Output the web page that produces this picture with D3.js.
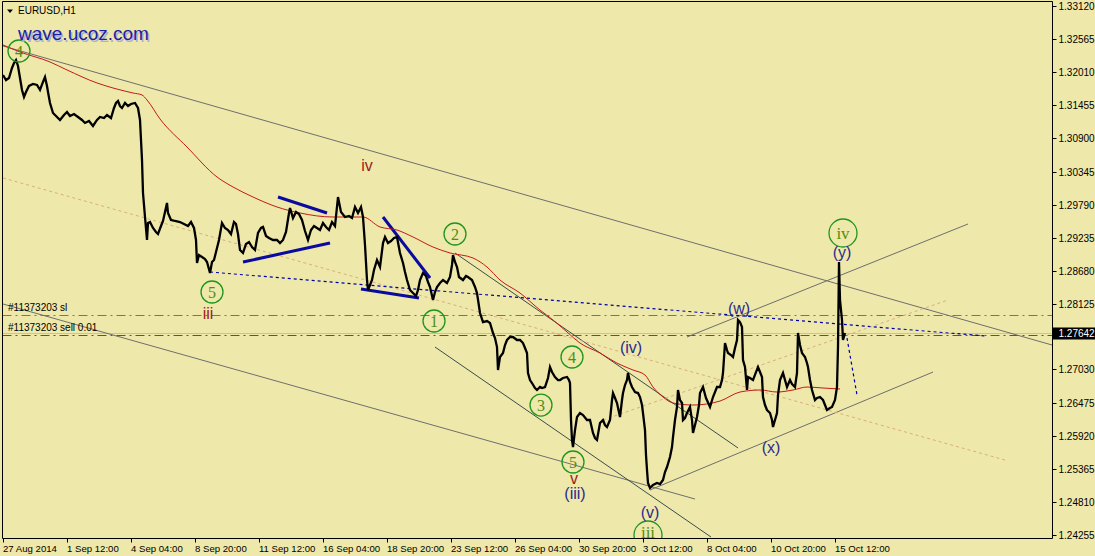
<!DOCTYPE html>
<html><head><meta charset="utf-8">
<script src="https://cdn.jsdelivr.net/npm/d3@7"></script>
<style>html,body{margin:0;padding:0;background:#EEE8AA;}svg{display:block;}</style>
</head><body><svg id="c" width="1095" height="556"></svg>
<script>
// ---------- DATA ----------
const symbolTitle = "EURUSD,H1";
const siteText = "wave.ucoz.com";
const timeTickBars = [0,64,128,192,256,320,384,448,512,576,640,704,768,832];
const timeTickLabels = ["27 Aug 2014","1 Sep 12:00","4 Sep 04:00","8 Sep 20:00","11 Sep 12:00","16 Sep 04:00","18 Sep 20:00","23 Sep 12:00","26 Sep 04:00","30 Sep 20:00","3 Oct 12:00","8 Oct 04:00","10 Oct 20:00","15 Oct 12:00"];
const priceTickValues = [1.33120,1.32565,1.32010,1.31455,1.30900,1.30345,1.29790,1.29235,1.28680,1.28125,1.27030,1.26475,1.25920,1.25365,1.24810,1.24255];
const lastPrice = 1.27642;

const priceBars = [0,3,6,9,11,13,15,17,19,21,23,26,30,34,37,40,42,44,45,47,50,54,57,61,64,67,71,75,79,82,86,90,94,97,101,104,108,111,113,115,117,119,122,125,128,132,135,137,139,140,142,144,145,147,150,153,155,158,160,162,164,165,168,172,177,181,185,188,191,193,194,196,199,202,204,207,209,211,214,216,219,222,225,228,231,233,235,237,240,243,246,249,252,255,258,260,263,266,270,274,277,280,283,286,287,290,293,296,299,302,305,308,311,314,317,320,323,326,329,332,335,338,342,346,349,352,355,358,360,362,364,365,367,369,371,374,377,380,382,385,388,391,394,397,400,402,404,407,410,413,415,417,420,423,425,427,430,432,434,437,440,444,447,449,450,452,454,456,460,463,465,469,472,474,477,480,484,487,490,492,494,495,497,500,502,504,507,510,514,517,520,522,524,525,527,529,532,534,537,539,542,545,547,549,552,555,557,560,564,566,567,568,569,570,572,574,577,580,584,587,590,592,594,597,600,602,604,607,609,610,612,614,617,619,620,622,624,625,627,629,632,635,637,639,640,642,643,644,645,647,650,654,657,660,662,664,667,669,670,672,674,675,677,679,680,682,684,687,689,690,692,694,696,697,700,703,707,710,714,717,719,720,722,724,725,728,730,732,734,735,737,739,740,742,744,745,747,750,753,755,757,759,760,762,764,767,769,770,772,774,775,777,780,782,784,787,789,792,794,795,797,799,802,804,805,807,809,812,814,817,820,822,824,827,829,832,834,835,836,837,839,840,842];
const closePrices = [1.31964,1.3188,1.31914,1.32081,1.32165,1.32215,1.32115,1.31914,1.31713,1.31595,1.31679,1.3178,1.31813,1.31796,1.31713,1.31847,1.3193,1.3178,1.31679,1.31495,1.31327,1.3126,1.3121,1.31294,1.31344,1.31277,1.3131,1.3126,1.3121,1.3116,1.31193,1.31109,1.3121,1.3126,1.31243,1.31294,1.31243,1.31411,1.31495,1.31528,1.31444,1.31411,1.31495,1.31444,1.31478,1.31495,1.31411,1.3121,1.30539,1.29986,1.29584,1.29199,1.29484,1.295,1.294,1.29333,1.29299,1.29433,1.29517,1.29668,1.29819,1.29651,1.29534,1.29517,1.295,1.29467,1.29433,1.295,1.294,1.29199,1.28813,1.28947,1.28914,1.2888,1.2883,1.28646,1.2883,1.28863,1.29064,1.29199,1.29484,1.294,1.29366,1.29299,1.295,1.29467,1.29299,1.29031,1.28981,1.29132,1.29165,1.29081,1.29031,1.29316,1.294,1.29417,1.29266,1.29232,1.29199,1.29199,1.29148,1.29199,1.29333,1.29651,1.29735,1.29567,1.29668,1.29634,1.29534,1.29349,1.29199,1.29366,1.29433,1.294,1.29366,1.29484,1.29417,1.29366,1.295,1.29433,1.29919,1.29668,1.29584,1.29601,1.29567,1.29752,1.29651,1.29752,1.29584,1.29115,1.28528,1.28361,1.28444,1.28528,1.28696,1.28863,1.28746,1.29148,1.29249,1.29148,1.29182,1.29232,1.29249,1.28981,1.28813,1.28662,1.28528,1.28361,1.2831,1.2826,1.28361,1.28528,1.28646,1.28595,1.28495,1.28411,1.28193,1.28327,1.28411,1.28478,1.28528,1.28478,1.28579,1.2878,1.28947,1.2883,1.28746,1.28579,1.28528,1.28595,1.28579,1.28528,1.28411,1.2831,1.27975,1.27824,1.27841,1.27808,1.2764,1.27556,1.27405,1.2702,1.27238,1.27305,1.27439,1.27523,1.27573,1.27573,1.27523,1.27523,1.27472,1.27389,1.27305,1.2697,1.26852,1.26802,1.26718,1.26685,1.26735,1.26718,1.26735,1.26886,1.2707,1.26986,1.26903,1.26852,1.26852,1.26886,1.26903,1.26852,1.26802,1.26182,1.25847,1.25729,1.26014,1.26232,1.26299,1.26266,1.26182,1.26182,1.25964,1.2588,1.25847,1.26132,1.26182,1.26098,1.26065,1.26182,1.26517,1.26634,1.26551,1.26467,1.26232,1.26517,1.26634,1.26768,1.26852,1.2697,1.26819,1.26735,1.26651,1.26634,1.26567,1.26433,1.26299,1.26014,1.25595,1.25344,1.25126,1.25042,1.25092,1.25126,1.25109,1.25176,1.2531,1.25394,1.25562,1.25729,1.25897,1.26182,1.264,1.26685,1.26517,1.26467,1.26182,1.26216,1.26299,1.264,1.26182,1.25964,1.26098,1.26232,1.26433,1.26634,1.26735,1.26551,1.264,1.26567,1.26735,1.26735,1.26852,1.2697,1.27472,1.27355,1.27305,1.27271,1.27238,1.27389,1.27523,1.27858,1.27824,1.27741,1.27185,1.2707,1.26685,1.26903,1.26886,1.26852,1.26986,1.2707,1.26986,1.26903,1.26567,1.26433,1.26349,1.26299,1.26182,1.26065,1.26182,1.26299,1.26601,1.26852,1.2697,1.26852,1.26735,1.26852,1.26785,1.26735,1.2697,1.2764,1.27439,1.27305,1.27238,1.27135,1.2707,1.26852,1.26685,1.26517,1.26551,1.26567,1.26517,1.26433,1.26349,1.26383,1.264,1.26517,1.26735,1.27405,1.2883,1.28193,1.27858,1.27523,1.2764];

const maBars = [0,17,47,64,94,110,130,139,144,157,184,214,230,250,274,297,330,360,377,394,410,430,447,470,484,497,517,537,550,564,577,597,614,630,642,650,660,670,690,717,737,757,774,790,804,820,837];
const maPrices = [1.32467,1.3235,1.32182,1.32048,1.3183,1.31746,1.31662,1.31629,1.31545,1.31227,1.30757,1.30255,1.30087,1.29919,1.29752,1.29651,1.29584,1.29584,1.29417,1.29366,1.29249,1.29081,1.28981,1.28897,1.28746,1.28528,1.2831,1.28025,1.27858,1.27657,1.27472,1.27305,1.27135,1.2702,1.26936,1.26735,1.26567,1.26467,1.26433,1.265,1.26651,1.26685,1.26651,1.26685,1.26735,1.26718,1.26702];

// trend lines (bar/price endpoints) and their kind
const tlBarA   = [0,      0,      452,    432,    647,    684,    0,      207,    844,    275,    240,    380,    358,    600];
const tlPriceA = [1.3245, 1.28126,1.28981,1.27405,1.25009,1.27573,1.30238,1.28662,1.27556,1.29919,1.2883, 1.29584,1.28377,1.26182];
const tlBarB   = [1049,   692,    735,    708,    930,    965,    1002,   982,    854,    324,    327,    427,    416,    945];
const tlPriceB = [1.27439,1.24858,1.25713,1.24221,1.26986,1.29467,1.25511,1.2759, 1.26601,1.29651,1.29148,1.28562,1.28226,1.28193];
const tlKind   = ["gray","gray","slate","slate","gray","gray","tan","bluedash","bluedash","navy","navy","navy","navy","tan"];

const hLinePrices = [1.27942, 1.27612, 1.27642];
const hLineKinds  = ["sl","sell","bid"];
const hLineTexts  = ["#11373203 sl","#11373203 sell 0.01",""];

const waveTexts  = ["4","5","1","2","3","4","5","iii","iv","iv","iii","v","(iv)","(iii)","(v)","(w)","(x)","(y)"];
const waveBars   = [16,209,431,452,538,569,570,645,840,364,205,571,628,572,647,736,768,839];
const wavePrices = [1.32366,1.28327,1.27841,1.29299,1.26433,1.27238,1.25478,1.24255,1.29316,1.30456,1.27975,1.2521,1.27405,1.24958,1.2464,1.28059,1.25729,1.28998];
const waveKinds  = ["circ","circ","circ","circ","circ","circ","circ","circ","circ","red","red","red","minor","minor","minor","minor","minor","minor"];

// ---------- STYLES ----------
const BG = "#EEE8AA";
const tlStyle = {
  gray:{stroke:"#6e6e6e",w:1,dash:null},
  slate:{stroke:"#3a4d4d",w:1,dash:null},
  tan:{stroke:"#D9AE7E",w:1,dash:"3,3"},
  bluedash:{stroke:"#0000A8",w:1.2,dash:"3,3"},
  navy:{stroke:"#0A0AA0",w:3,dash:null}
};
const hStyle = {
  sl:{stroke:"#F04A10",w:1,dash:"9,4,2,4"},
  sell:{stroke:"#0A8A0A",w:1,dash:"9,4,2,4"},
  bid:{stroke:"#C0C0C0",w:1,dash:null}
};

const svg = d3.select("#c");
const W = 1095, H = 556;
const plot = {l:2.5, t:1.5, r:1052.5, b:538.5};

svg.append("rect").attr("width",W).attr("height",H).attr("fill",BG);

const x = d3.scaleLinear().domain([0,1049]).range([3,1052]);
const y = d3.scaleLinear().domain([1.24255,1.33120]).range([535,6]);

svg.append("defs").append("clipPath").attr("id","pc")
  .append("rect").attr("x",plot.l).attr("y",plot.t).attr("width",plot.r-plot.l).attr("height",plot.b-plot.t);

const g = svg.append("g").attr("clip-path","url(#pc)");

// horizontal lines
hLinePrices.forEach((p,i)=>{
  const s = hStyle[hLineKinds[i]];
  g.append("line").attr("x1",plot.l).attr("x2",plot.r)
    .attr("y1",Math.round(y(p))+0.5).attr("y2",Math.round(y(p))+0.5)
    .attr("stroke",s.stroke).attr("stroke-width",s.w)
    .attr("stroke-dasharray",s.dash);
});

// trend lines
tlKind.forEach((k,i)=>{
  const s = tlStyle[k];
  g.append("line")
    .attr("x1",x(tlBarA[i])).attr("y1",y(tlPriceA[i]))
    .attr("x2",x(tlBarB[i])).attr("y2",y(tlPriceB[i]))
    .attr("stroke",s.stroke).attr("stroke-width",s.w)
    .attr("stroke-dasharray",s.dash);
});

// moving average
g.append("path")
  .attr("d", d3.line().x((d,i)=>x(maBars[i])).y(d=>y(d)).curve(d3.curveMonotoneX)(maPrices))
  .attr("fill","none").attr("stroke","#C41A1A").attr("stroke-width",1);

// price
g.append("path")
  .attr("d", d3.line().x((d,i)=>x(priceBars[i])).y(d=>y(d))(closePrices))
  .attr("fill","none").attr("stroke","#000").attr("stroke-width",2.3).attr("stroke-linejoin","miter");

// order texts
hLineTexts.forEach((t,i)=>{
  if(!t) return;
  g.append("text").attr("x",8).attr("y",y(hLinePrices[i])-3.5)
    .attr("font-family","Liberation Sans, Arial, sans-serif").attr("font-size",10)
    .attr("fill","#000").text(t);
});

// wave labels
waveTexts.forEach((t,i)=>{
  const cx = x(waveBars[i]), cy = y(wavePrices[i]);
  const k = waveKinds[i];
  if(k==="circ"){
    const r = t.length>1 ? 14 : 11;
    const fs = t.length>1 ? 17 : 16;
    g.append("circle").attr("cx",cx).attr("cy",cy).attr("r",r)
      .attr("fill","none").attr("stroke","#1E961E").attr("stroke-width",1.3);
    g.append("text").attr("x",cx).attr("y",Math.min(cy + 0.35*fs, plot.b - 1))
      .attr("text-anchor","middle").attr("font-family","Liberation Serif, Times New Roman, serif")
      .attr("font-size",fs).attr("fill","#4E8E12").text(t);
  } else if(k==="red"){
    g.append("text").attr("x",cx).attr("y",cy).attr("dy","0.35em")
      .attr("text-anchor","middle").attr("font-family","Liberation Sans, Arial, sans-serif")
      .attr("font-size",16).attr("fill","#9A1C1C").text(t);
  } else {
    g.append("text").attr("x",cx).attr("y",cy).attr("dy","0.35em")
      .attr("text-anchor","middle").attr("font-family","Liberation Sans, Arial, sans-serif")
      .attr("font-size",16).attr("fill","#2B2B8E").text(t);
  }
});

// frame
svg.append("path")
  .attr("d",`M${plot.l},${plot.b}V${plot.t}H${plot.r}V${plot.b}H${plot.l}`)
  .attr("fill","none").attr("stroke","#000").attr("stroke-width",1);

// price axis
priceTickValues.forEach(v=>{
  const yy = Math.round(y(v))+0.5;
  svg.append("line").attr("x1",plot.r).attr("x2",plot.r+4).attr("y1",yy).attr("y2",yy).attr("stroke","#000");
  svg.append("text").attr("x",plot.r+6).attr("y",yy+3.5)
    .attr("font-family","Liberation Sans, Arial, sans-serif").attr("font-size",10).attr("fill","#000")
    .text(v.toFixed(5));
});
const ly = Math.round(y(lastPrice));
svg.append("rect").attr("x",plot.r+0.5).attr("y",ly-5.5).attr("width",W-plot.r).attr("height",12).attr("fill","#000");
svg.append("text").attr("x",plot.r+6).attr("y",ly+4)
  .attr("font-family","Liberation Sans, Arial, sans-serif").attr("font-size",10).attr("fill","#fff")
  .text(lastPrice.toFixed(5));

// time axis
timeTickBars.forEach((b,i)=>{
  const xx = Math.round(x(b))+0.5;
  svg.append("line").attr("x1",xx).attr("x2",xx).attr("y1",plot.b).attr("y2",plot.b+4).attr("stroke","#000");
  svg.append("text").attr("x",xx-0.5).attr("y",551.5)
    .attr("font-family","Liberation Sans, Arial, sans-serif").attr("font-size",9.6).attr("fill","#000")
    .text(timeTickLabels[i]);
});

// title
svg.append("path").attr("d","M7,9.5H13L10,13Z").attr("fill","#000");
svg.append("text").attr("x",18).attr("y",14).attr("font-family","Liberation Sans, Arial, sans-serif")
  .attr("font-size",10).attr("fill","#000").text(symbolTitle);
svg.append("text").attr("x",19.5).attr("y",41.5).attr("font-family","Liberation Sans, Arial, sans-serif")
  .attr("font-size",19).attr("fill","#A9AFD9").text(siteText);
svg.append("text").attr("x",18).attr("y",40).attr("font-family","Liberation Sans, Arial, sans-serif")
  .attr("font-size",19).attr("fill","#1E1EA0").text(siteText);
</script></body></html>
